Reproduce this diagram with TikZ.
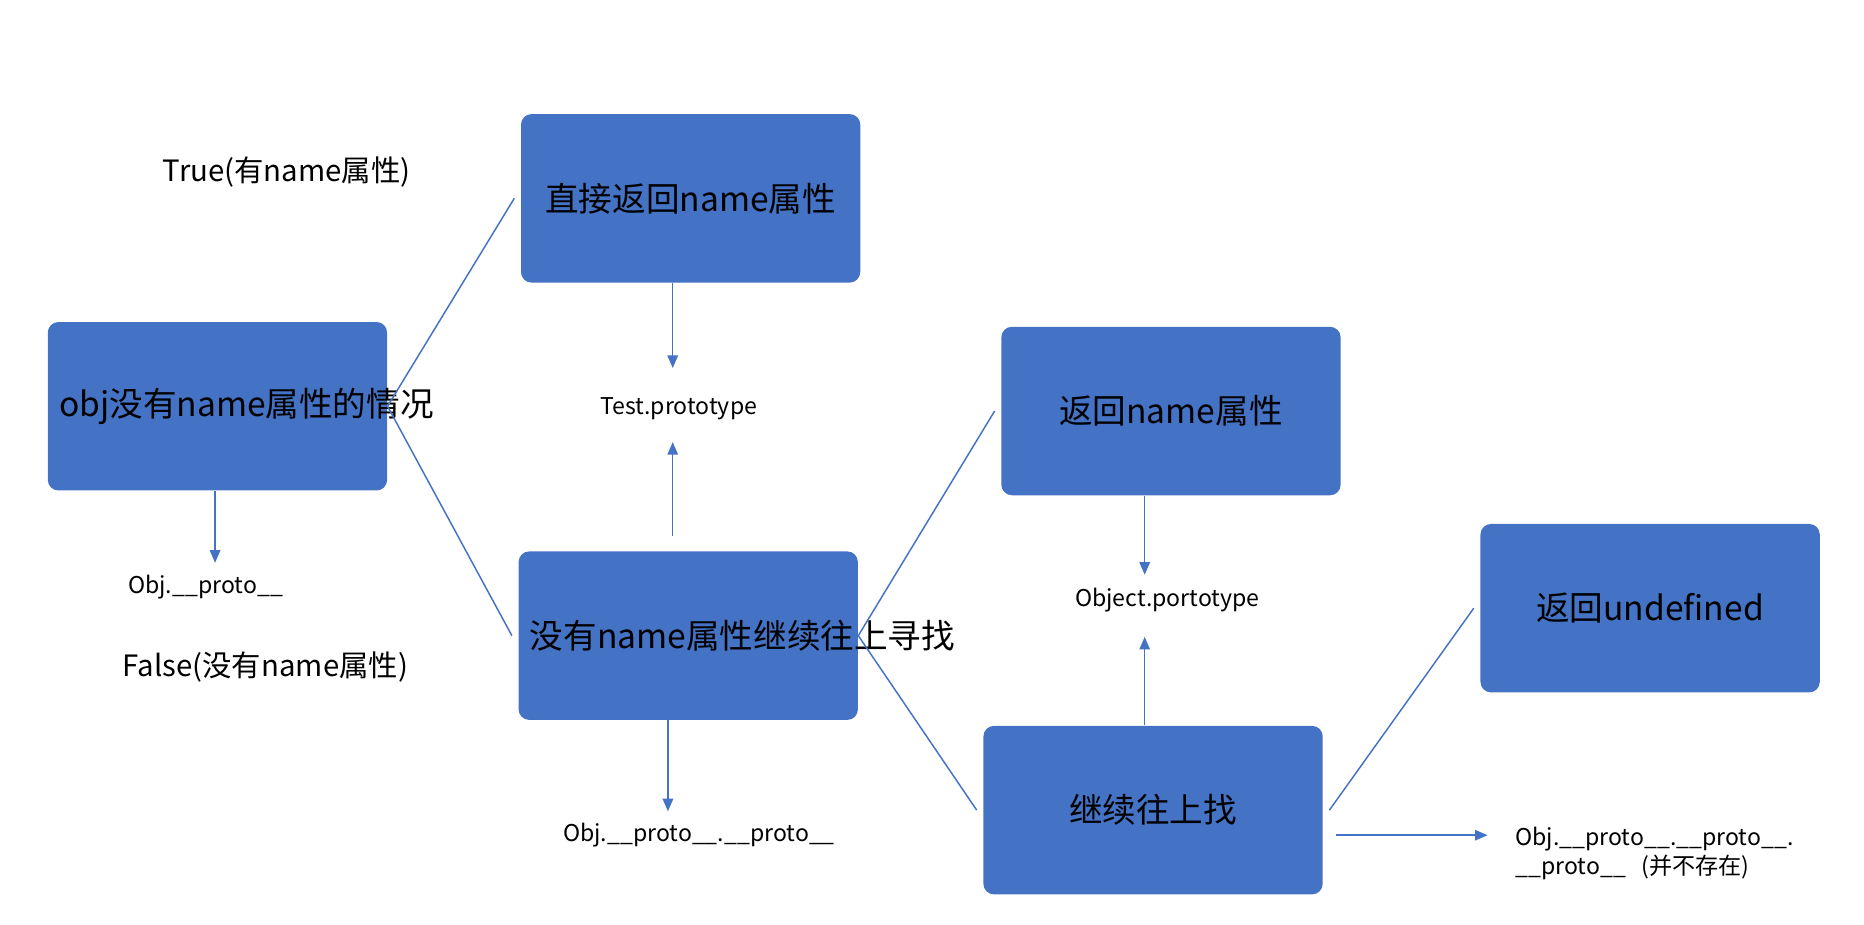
\documentclass[tikz,border=0pt]{standalone}
\usepackage{fontspec}
\setmainfont{Noto Sans CJK SC}
\usetikzlibrary{arrows.meta, positioning}
\definecolor{boxblue}{HTML}{4472C4}
\tikzstyle{block} = [rectangle, rounded corners=5pt, fill=boxblue, text centered, minimum height=2.82cm, minimum width=5.68cm, text width=5.3cm, font=\fontsize{16}{21}\selectfont]
\tikzstyle{label} = [text centered, font=\fontsize{11}{14}\selectfont]
\tikzstyle{branch} = [boxblue, line width=0.7pt]
\tikzstyle{arrow} = [boxblue, line width=0.7pt, -{Triangle[width=5pt,length=6pt]}]

\begin{document}
\begin{tikzpicture}[x=0.02cm, y=-0.02cm]
    \useasboundingbox (0,0) rectangle (1560,774);

    % Blocks
    \node (start) [block] at (182,340) {obj没有name属性的情况};
    \node (direct) [block] at (578,166) {直接返回name属性};
    \node (search) [block] at (576,532) {没有name属性继续往上寻找};
    \node (found) [block] at (980,344) {返回name属性};
    \node (further) [block] at (965,678) {继续往上找};
    \node (undef) [block] at (1381,509) {返回undefined};

    % Labels
    \node (true_label) [label, font=\fontsize{14}{17}\selectfont] at (240,144) {True(有name属性)};
    \node (false_label) [label, font=\fontsize{14}{17}\selectfont] at (222,558) {False(没有name属性)};
    \node (test_proto) [label] at (568,342) {Test.prototype};
    \node (obj_proto) [label] at (172,491) {Obj.\_\_proto\_\_};
    \node (obj_proto2) [label] at (585,699) {Obj.\_\_proto\_\_.\_\_proto\_\_};
    \node (object_proto) [label] at (977,502) {Object.portotype};
    \node (obj_proto3) [label, text width=5cm, align=left, anchor=north west] at (1262,686) {Obj.\_\_proto\_\_.\_\_proto\_\_.\\\_\_proto\_\_\ \ (并不存在)};

    % Arrow ends
    \coordinate (test_in) at (563,308);
    \coordinate (test_up) at (563,370);
    \coordinate (obj_in) at (180,471);
    \coordinate (obj2_in) at (559,679);
    \coordinate (object_in) at (958,481);
    \coordinate (object_up) at (958,533);
    \coordinate (obj3_in) at (1245,699);

    % Branches
    \draw [branch] (start.east) -- ([xshift=-3]direct.west);
    \draw [branch] (start.east) -- ([xshift=-3]search.west);
    \draw [branch] (search.east) -- ([xshift=-3]found.west);
    \draw [branch] (search.east) -- ([xshift=-3]further.west);
    \draw [branch] ([xshift=3]further.east) -- ([xshift=-3]undef.west);

    % Arrows
    \draw [arrow] (direct.south -| test_in) -- (test_in);
    \draw [arrow] ([yshift=7]search.north -| test_up) -- (test_up);
    \draw [arrow] (start.south -| obj_in) -- (obj_in);
    \draw [arrow] (search.south -| obj2_in) -- (obj2_in);
    \draw [arrow] (found.south -| object_in) -- (object_in);
    \draw [arrow] (further.north -| object_up) -- (object_up);
    \draw [arrow] ([xshift=6]further.east |- obj3_in) -- (obj3_in);
\end{tikzpicture}
\end{document}
